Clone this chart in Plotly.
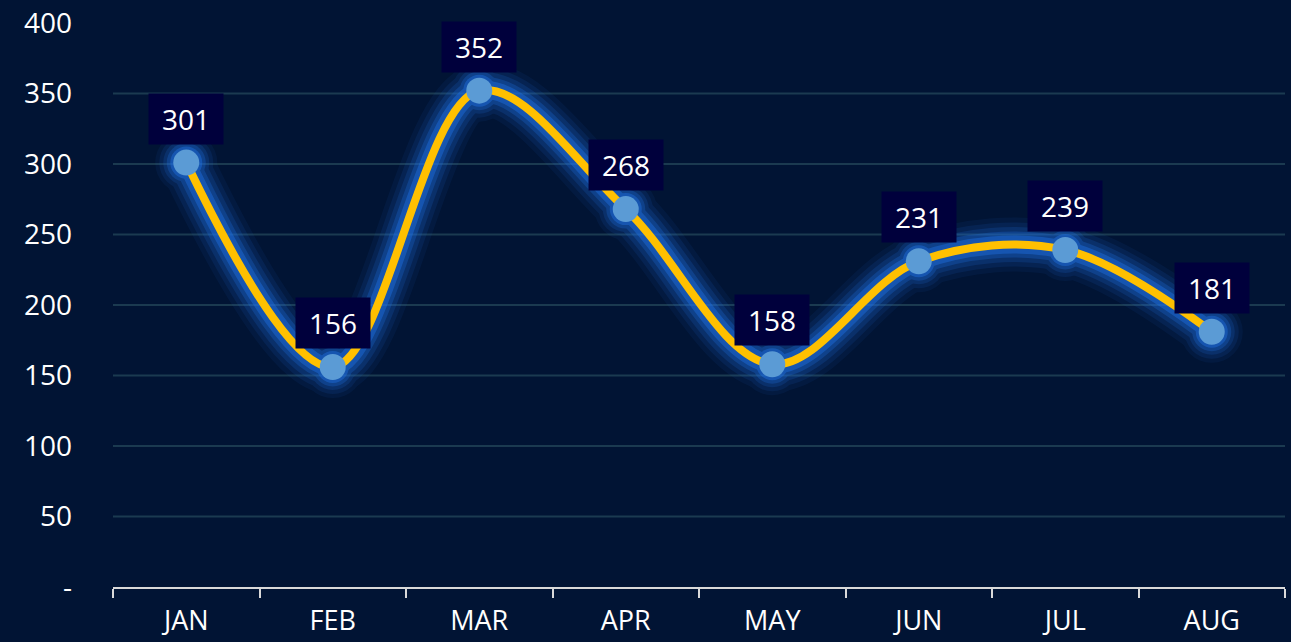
import plotly.graph_objects as go

months = ["JAN", "FEB", "MAR", "APR", "MAY", "JUN", "JUL", "AUG"]
values = [301, 156, 352, 268, 158, 231, 239, 181]
ytick_vals = [0, 50, 100, 150, 200, 250, 300, 350, 400]
ytick_text = ["-", "50", "100", "150", "200", "250", "300", "350", "400"]

BG = "#011434"
FONT = "Open Sans"
GLOW = "#1f6fe0"

fig = go.Figure()

# glow layers
for w, op, ms in [(54, 0.07, 62), (44, 0.11, 54), (35, 0.17, 46), (26, 0.27, 39), (18, 0.45, 32)]:
    fig.add_trace(go.Scatter(
        x=months, y=values, mode="lines+markers",
        line=dict(color=GLOW, width=w, shape="spline", smoothing=1.0),
        marker=dict(size=ms, color=GLOW),
        opacity=op, hoverinfo="skip", showlegend=False))

fig.add_trace(go.Scatter(
    x=months, y=values, mode="lines",
    line=dict(color="#FFC000", width=8, shape="spline", smoothing=1.0),
    hoverinfo="skip", showlegend=False))
fig.add_trace(go.Scatter(
    x=months, y=values, mode="markers",
    marker=dict(size=26, color="#5b9bd5"),
    showlegend=False))

for m, v in zip(months, values):
    fig.add_annotation(x=m, y=v, text=str(v), showarrow=False, yshift=44,
                       bgcolor="#00003c", width=72, height=48,
                       font=dict(family=FONT, size=28, color="white"))

for t in ytick_vals[1:-1]:
    fig.add_shape(type="line", xref="paper", x0=0, x1=1, yref="y", y0=t, y1=t,
                  line=dict(color="#1b3a50", width=2), layer="below")

fig.update_layout(
    width=1291, height=642,
    margin=dict(l=113, r=6, t=23, b=55),
    paper_bgcolor=BG, plot_bgcolor=BG,
    font=dict(family=FONT, color="white", size=28),
    xaxis=dict(type="category", range=[-0.5, 7.5], showgrid=False,
               showline=True, linecolor="#d9d9d9", linewidth=2,
               ticks="outside", ticklen=9, tickwidth=2, tickcolor="#d9d9d9",
               tickson="boundaries", ticklabelstandoff=9, automargin=False,
               tickfont=dict(size=27, color="white"), zeroline=False),
    yaxis=dict(range=[0, 400], tickvals=ytick_vals, ticktext=ytick_text,
               showgrid=False, zeroline=False, showline=False,
               ticklabelstandoff=40, automargin=False,
               tickfont=dict(size=28, color="white")),
)

fig.write_html("out.html", config={"displayModeBar": False},
               post_script="document.body.style.margin='0';document.body.style.background='%s';" % BG)
